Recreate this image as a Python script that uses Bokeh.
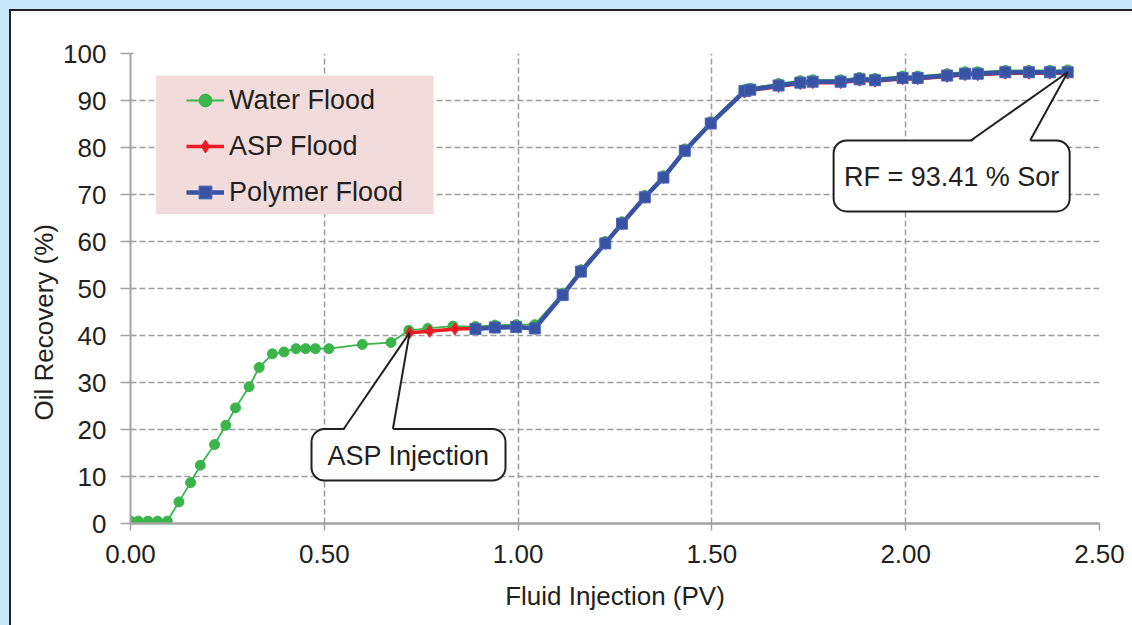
from bokeh.plotting import figure
from bokeh.models import Range1d, FixedTicker, NumeralTickFormatter, Legend, LegendItem, BoxAnnotation, Title
from bokeh.core.properties import value
from bokeh.embed import file_html
from bokeh.resources import INLINE

# ---------------- data ----------------
water_x = [0.000, 0.020, 0.045, 0.070, 0.095, 0.125, 0.155, 0.180, 0.217, 0.246,
           0.271, 0.306, 0.332, 0.366, 0.396, 0.427, 0.452, 0.477, 0.512, 0.598,
           0.672, 0.718, 0.767, 0.832, 0.890, 0.940, 0.995, 1.043, 1.115, 1.162,
           1.225, 1.268, 1.327, 1.375, 1.430, 1.497, 1.584, 1.599, 1.672, 1.728,
           1.760, 1.832, 1.881, 1.921, 1.992, 2.031, 2.107, 2.153, 2.186, 2.257,
           2.318, 2.372, 2.418]
water_y = [0.5, 0.5, 0.5, 0.5, 0.5, 4.6, 8.7, 12.4, 16.8, 20.9,
           24.6, 29.1, 33.2, 36.1, 36.5, 37.2, 37.2, 37.2, 37.2, 38.1,
           38.5, 41.1, 41.5, 42.0, 41.9, 42.2, 42.3, 42.3, 49.0, 54.0,
           60.0, 64.2, 69.8, 74.0, 79.7, 85.5, 92.3, 92.6, 93.6, 94.2,
           94.4, 94.4, 94.9, 94.7, 95.2, 95.2, 95.7, 96.1, 96.1, 96.4,
           96.4, 96.4, 96.5]

asp_x = [0.720, 0.772, 0.837, 0.890, 0.940, 0.995, 1.043, 1.115, 1.162, 1.225,
         1.268, 1.327, 1.375, 1.430, 1.497, 1.584, 1.599, 1.672, 1.728, 1.760,
         1.832, 1.881, 1.921, 1.992, 2.031, 2.107, 2.153, 2.186, 2.257, 2.318,
         2.372, 2.418]
asp_y = [40.6, 40.9, 41.4, 41.5, 41.7, 41.8, 41.5, 48.6, 53.6, 59.6,
         63.8, 69.4, 73.6, 79.3, 85.1, 91.8, 92.1, 93.0, 93.6, 93.8,
         93.8, 94.3, 94.1, 94.6, 94.6, 95.1, 95.5, 95.5, 95.8, 95.8,
         95.8, 95.8]

poly_x = [0.890, 0.940, 0.995, 1.043, 1.115, 1.162, 1.225, 1.268, 1.327, 1.375,
          1.430, 1.497, 1.584, 1.599, 1.672, 1.728, 1.760, 1.832, 1.881, 1.921,
          1.992, 2.031, 2.107, 2.153, 2.186, 2.257, 2.318, 2.372, 2.418]
poly_y = [41.4, 41.7, 41.8, 41.5, 48.6, 53.6, 59.6, 63.8, 69.4, 73.6,
          79.3, 85.1, 92.0, 92.3, 93.2, 93.8, 94.0, 94.0, 94.5, 94.3,
          94.8, 94.8, 95.3, 95.7, 95.7, 96.0, 96.0, 96.0, 96.0]

series_names = ["Water Flood", "ASP Flood", "Polymer Flood"]
x_ticks = [0.0, 0.5, 1.0, 1.5, 2.0, 2.5]
y_ticks = [0, 10, 20, 30, 40, 50, 60, 70, 80, 90, 100]
x_title = "Fluid Injection (PV)"
y_title = "Oil Recovery (%)"
asp_note = "ASP Injection"
rf_note = "RF = 93.41 % Sor"

# ---------------- styles ----------------
FONT = "Liberation Sans"
TXT = "#231f20"
GREEN = "#39b54a"
RED = "#ed1c24"
BLUE = "#3953a4"
GRID = "#9d9d9d"
AXIS = "#a3a3a3"

p = figure(width=1124, height=617, output_backend="svg", toolbar_location=None,
           x_range=Range1d(0, 2.5), y_range=Range1d(0, 100),
           min_border_left=122, min_border_right=33, min_border_top=45,
           min_border_bottom=102)
p.border_fill_color = None
p.background_fill_color = "white"
p.outline_line_color = None
p.styles = {"background-color": "white",
            "box-shadow": "inset 1px 1px 0 #c6e8f8, inset 3px 3px 0 #231f20"}

# axes
p.xaxis.ticker = FixedTicker(ticks=x_ticks)
p.yaxis.ticker = FixedTicker(ticks=y_ticks)
p.xaxis.formatter = NumeralTickFormatter(format="0.00")
p.xaxis.minor_tick_line_color = None
p.yaxis.minor_tick_line_color = None
for ax in (p.xaxis, p.yaxis):
    ax.axis_line_color = AXIS
    ax.major_tick_line_color = AXIS
    ax.major_tick_line_width = 1.5
    ax.major_label_text_font = FONT
    ax.major_label_text_font_size = "26px"
    ax.major_label_text_color = TXT
    ax.axis_label_text_font = FONT
    ax.axis_label_text_font_size = "26px"
    ax.axis_label_text_font_style = "normal"
    ax.axis_label_text_color = TXT
p.xaxis.axis_line_width = 2.5
p.yaxis.axis_line_width = 2
p.xaxis.major_tick_in = 0
p.xaxis.major_tick_out = 7
p.yaxis.major_tick_in = 3
p.yaxis.major_tick_out = 10
p.xaxis.major_label_standoff = 14
p.yaxis.major_label_standoff = 14
p.xaxis.axis_label = x_title
p.xaxis.axis_label_standoff = 15

# y-axis title as a side title (sits lower than the axis centre in the original)
p.add_layout(Title(text=y_title, align="left", offset=103, standoff=4,
                   text_font=FONT, text_font_size="26px", text_font_style="normal",
                   text_color=TXT), "left")

# grid
for g in (p.xgrid, p.ygrid):
    g.grid_line_color = GRID
    g.grid_line_width = 1.5
    g.grid_line_dash = "6 3"

# series
wl = p.line(water_x, water_y, line_color=GREEN, line_width=1.8)
ws = p.scatter(water_x, water_y, marker="circle", size=10, fill_color=GREEN, line_color=GREEN)
al = p.line(asp_x, asp_y, line_color=RED, line_width=3.5)
as_ = p.scatter(asp_x, asp_y, marker="diamond", size=12, fill_color=RED, line_color=RED)
pl = p.line(poly_x, poly_y, line_color=BLUE, line_width=4.5)
ps = p.scatter(poly_x, poly_y, marker="square", size=11, fill_color=BLUE, line_color="#4a66b8", line_width=1)

# callouts (boxes with pointers)
callouts = [
    dict(text=asp_note, left=0.467, right=0.9675, bottom=9.15, top=20.1,
         b1=0.550, b2=0.677, tip=(asp_x[0], asp_y[0])),
    dict(text=rf_note, left=1.814, right=2.423, bottom=66.4, top=81.5,
         b1=2.168, b2=2.321, tip=(poly_x[-1], poly_y[-1])),
]
for c in callouts:
    p.quad(left=[c["left"]], right=[c["right"]], bottom=[c["bottom"]], top=[c["top"]],
           fill_color="white", line_color=TXT, line_width=2, border_radius=13)
    p.text(x=[(c["left"] + c["right"]) / 2], y=[(c["bottom"] + c["top"]) / 2 - 0.2],
           text=[c["text"]], text_font=value(FONT), text_font_size="27px",
           text_color=TXT, text_align="center", text_baseline="middle")
    tx, ty = c["tip"]
    p.patch([c["b1"], tx, c["b2"]], [c["top"] - 0.4, ty, c["top"] - 0.4],
            fill_color="white", line_color=None)
    p.multi_line(xs=[[c["b1"], tx], [c["b2"], tx]], ys=[[c["top"], ty], [c["top"], ty]],
                 line_color=TXT, line_width=2)

# legend with pink background
p.add_layout(BoxAnnotation(left=0.066, right=0.782, bottom=65.8, top=95.3,
                           fill_color="#f2dcdb", fill_alpha=1, line_color=None))
legend = Legend(items=[LegendItem(label=series_names[0], renderers=[wl, ws]),
                       LegendItem(label=series_names[1], renderers=[al, as_]),
                       LegendItem(label=series_names[2], renderers=[pl, ps])],
                location=(56, 315), padding=10, spacing=14, glyph_width=38,
                glyph_height=32, label_height=32, label_standoff=5,
                background_fill_alpha=0, border_line_color=None,
                label_text_font=FONT, label_text_font_size="27px",
                label_text_color=TXT)
p.add_layout(legend)

tmpl = """{% block postamble %}<style>html, body { background: #c6e8f8; overflow: hidden; } body { padding: 8px 0 0 8px !important; }</style>{% endblock %}"""
open("out.html", "w").write(file_html(p, INLINE, template=tmpl))
